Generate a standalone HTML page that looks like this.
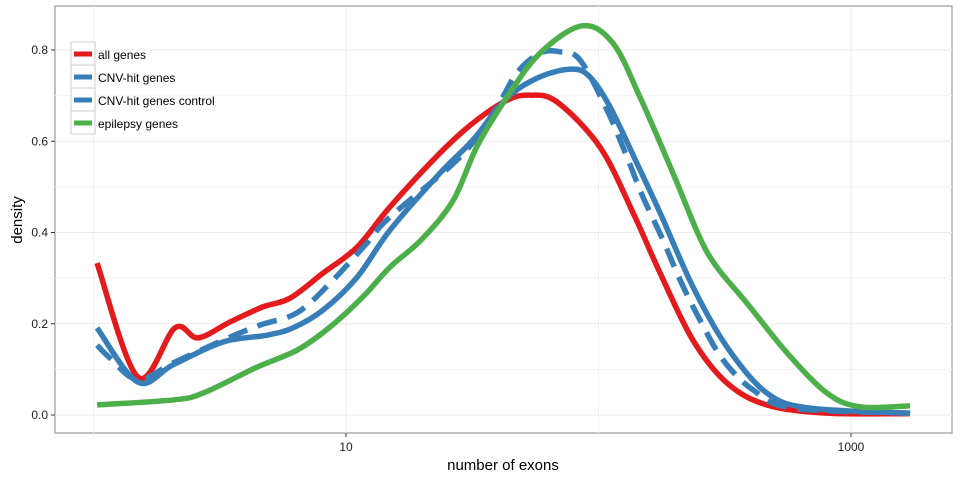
<!DOCTYPE html>
<html><head><meta charset="utf-8"><style>
body{margin:0;background:#fff;}
svg{display:block;font-family:"Liberation Sans",sans-serif;}
</style></head><body>
<svg id="chart" width="960" height="480">
<rect x="55" y="6" width="897" height="427" fill="#fff" stroke="#9a9a9a" stroke-width="1.2"/>
<g id="grid"></g><g id="series"></g><g id="axes"></g>
<g>
 <rect x="71" y="42" width="24" height="23" fill="#fff" stroke="#ccc"/>
 <rect x="71" y="65" width="24" height="23" fill="#fff" stroke="#ccc"/>
 <rect x="71" y="88" width="24" height="23" fill="#fff" stroke="#ccc"/>
 <rect x="71" y="111" width="24" height="23" fill="#fff" stroke="#ccc"/>
 <line x1="74" x2="92" y1="54" y2="54" stroke="#e41a1c" stroke-width="5"/>
 <line x1="74" x2="92" y1="77" y2="77" stroke="#377eb8" stroke-width="5"/>
 <line x1="74" x2="92" y1="100" y2="100" stroke="#377eb8" stroke-width="5"/>
 <line x1="74" x2="92" y1="123" y2="123" stroke="#4daf4a" stroke-width="5"/>
 <text x="98" y="59" font-size="12" fill="#000">all genes</text>
 <text x="98" y="82" font-size="12" fill="#000">CNV-hit genes</text>
 <text x="98" y="105" font-size="12" fill="#000">CNV-hit genes control</text>
 <text x="98" y="128" font-size="12" fill="#000">epilepsy genes</text>
</g>
<text x="503" y="470" font-size="15" text-anchor="middle">number of exons</text>
<text transform="translate(22,220) rotate(-90)" font-size="15" text-anchor="middle">density</text>
</svg>
<script>
// x values are log10(number of exons)
const allX=[0.014,0.176,0.323,0.414,0.541,0.671,0.778,0.909,1.044,1.174,1.372,1.503,1.638,1.729,1.836,2.006,2.137,2.244,2.374,2.509,2.667,2.905,3.234];
const allY=[0.333,0.083,0.191,0.169,0.204,0.237,0.256,0.311,0.368,0.456,0.574,0.640,0.690,0.701,0.686,0.587,0.443,0.311,0.164,0.070,0.022,0.004,0.003];
const cnvX=[0.014,0.176,0.315,0.513,0.687,0.790,0.909,1.044,1.174,1.372,1.503,1.638,1.768,1.895,1.966,2.046,2.152,2.244,2.374,2.509,2.667,2.838,3.234];
const cnvY=[0.191,0.072,0.110,0.160,0.175,0.191,0.230,0.302,0.405,0.530,0.603,0.695,0.741,0.758,0.741,0.675,0.552,0.443,0.281,0.149,0.048,0.015,0.004];
const ctlX=[0.014,0.065,0.176,0.315,0.513,0.659,0.806,0.937,1.083,1.174,1.451,1.590,1.677,1.768,1.848,1.927,2.034,2.113,2.176,2.255,2.323,2.402,2.493,2.612,2.770,3.234];
const ctlY=[0.153,0.125,0.077,0.114,0.164,0.197,0.224,0.289,0.377,0.434,0.565,0.668,0.750,0.793,0.796,0.778,0.668,0.565,0.478,0.384,0.296,0.208,0.121,0.055,0.015,0.004];
const epiX=[0.014,0.315,0.434,0.648,0.806,0.937,1.067,1.174,1.30,1.424,1.52,1.638,1.768,1.935,2.057,2.164,2.295,2.400,2.469,2.588,2.747,2.905,3.036,3.234];
const epiY=[0.022,0.033,0.048,0.105,0.142,0.193,0.259,0.324,0.385,0.470,0.590,0.697,0.793,0.853,0.815,0.697,0.530,0.390,0.324,0.245,0.136,0.048,0.018,0.020];
const yTicks=[0,0.2,0.4,0.6,0.8];
const yTickLabels=["0.0","0.2","0.4","0.6","0.8"];
const xTicks=[1,3];
const xTickLabels=["10","1000"];
const xMinor=[0,2];
const yMinor=[0.1,0.3,0.5,0.7];

const sx=v=>346+(v-1)*252.5;
const sy=v=>415-v*456.25;
const NS="http://www.w3.org/2000/svg";
function mk(t,a,p){const e=document.createElementNS(NS,t);for(const k in a)e.setAttribute(k,a[k]);p.appendChild(e);return e;}
const grid=document.getElementById('grid'),axes=document.getElementById('axes'),ser=document.getElementById('series');
xMinor.forEach(v=>{const l=mk('line',{x1:sx(v),x2:sx(v),y1:6,y2:433,stroke:'#f2f2f2','stroke-width':1},grid);

});
yMinor.forEach(v=>{const l=mk('line',{x1:55,x2:952,y1:sy(v),y2:sy(v),stroke:'#f2f2f2','stroke-width':1},grid);

});
xTicks.forEach((v,i)=>{const l=mk('line',{x1:sx(v),x2:sx(v),y1:6,y2:433,stroke:'#ebebeb','stroke-width':1},grid);


const t=mk('line',{x1:sx(v),x2:sx(v),y1:433,y2:437,stroke:'#333'},axes);


const tx=mk('text',{x:sx(v),y:451,'font-size':12,'text-anchor':'middle',fill:'#222'},axes);tx.textContent=xTickLabels[i];

});
yTicks.forEach((v,i)=>{const l=mk('line',{x1:55,x2:952,y1:sy(v),y2:sy(v),stroke:'#ebebeb','stroke-width':1},grid);


const t=mk('line',{x1:51,x2:55,y1:sy(v),y2:sy(v),stroke:'#333'},axes);


const tx=mk('text',{x:48,y:sy(v)+4,'font-size':12,'text-anchor':'end',fill:'#222'},axes);tx.textContent=yTickLabels[i];

});
function path(X,Y){const p=X.map((x,i)=>[sx(x),sy(Y[i])]);let d='M'+p[0][0]+','+p[0][1];
for(let i=0;i<p.length-1;i++){const p0=p[i-1]||p[i],p1=p[i],p2=p[i+1],p3=p[i+2]||p2;
d+=' C'+(p1[0]+(p2[0]-p0[0])/6)+','+(p1[1]+(p2[1]-p0[1])/6)+' '+(p2[0]-(p3[0]-p1[0])/6)+','+(p2[1]-(p3[1]-p1[1])/6)+' '+p2[0]+','+p2[1];}return d;}
function line(X,Y,c,dash,name){const e=mk('path',{d:path(X,Y),fill:'none',stroke:c,'stroke-width':5.5,'stroke-linejoin':'round'},ser);
if(dash)e.setAttribute('stroke-dasharray','20 11');

}
line(allX,allY,'#e41a1c',false,'all-genes-line');
line(cnvX,cnvY,'#377eb8',false,'cnv-hit-genes-line');
line(ctlX,ctlY,'#377eb8',true,'cnv-hit-control-line');
line(epiX,epiY,'#4daf4a',false,'epilepsy-genes-line');
</script>
</body></html>
